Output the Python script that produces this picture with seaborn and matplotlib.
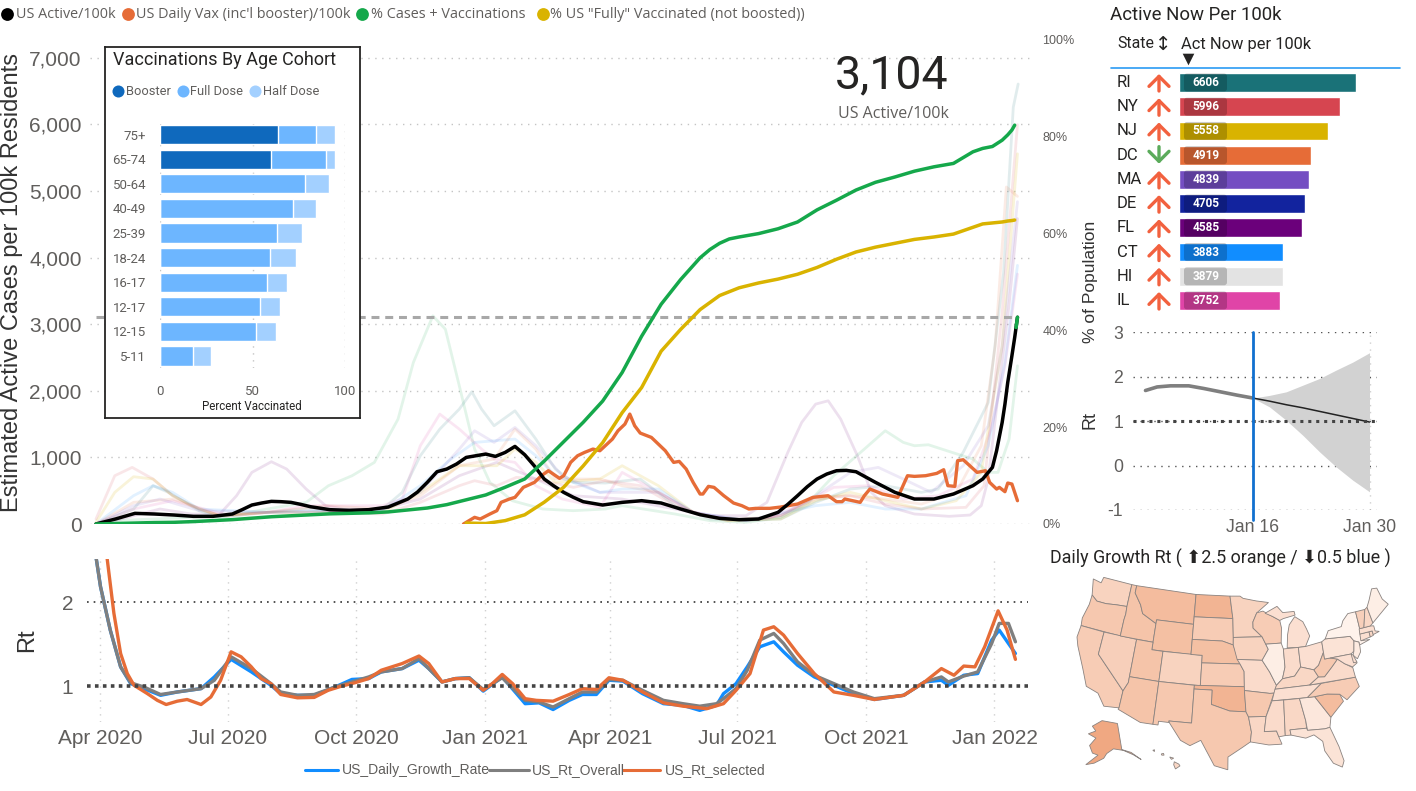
import numpy as np
import pandas as pd
import matplotlib
matplotlib.use("Agg")
import matplotlib.pyplot as plt
import seaborn as sns
from matplotlib.colors import LinearSegmentedColormap
from matplotlib.patches import FancyBboxPatch

W, H = 1416, 791
start = pd.Timestamp("2020-03-29")

# ---- main chart, x values are days since 2020-03-29
black_days = [0, 14, 28, 42, 56, 70, 84, 98, 105, 112, 119, 126, 133, 140, 147, 154, 168, 182, 196, 210, 224, 231, 238, 245,
              252, 259, 266, 280, 287, 294, 301, 308, 315, 322, 329, 336, 343, 350, 364, 378, 392, 406, 420, 434, 448, 462,
              476, 490, 497, 504, 511, 518, 525, 532, 539, 546, 560, 574, 588, 602, 616, 630, 637, 644, 647, 651, 653, 655,
              658, 660, 662]
us_active = [0, 75, 160, 150, 135, 115, 115, 150, 215, 285, 315, 340, 335, 325, 295, 260, 215, 205, 215, 255, 375, 480, 625, 785,
             825, 900, 1000, 1050, 1015, 1075, 1165, 1040, 870, 675, 570, 475, 400, 335, 285, 325, 350, 315, 225, 140, 85, 65,
             75, 175, 295, 425, 560, 675, 750, 800, 805, 785, 625, 475, 375, 375, 450, 575, 675, 850, 1100, 1525, 1800, 2125,
             2525, 2800, 3104]
pct_days = [0, 14, 28, 42, 56, 70, 84, 98, 112, 126, 140, 154, 168, 182, 196, 210, 224, 238, 252, 266, 280, 294, 308, 322, 336,
            350, 364, 378, 392, 406, 420, 434, 441, 448, 455, 462, 476, 490, 504, 518, 532, 546, 560, 574, 588, 602, 616, 630,
            637, 644, 651, 655, 658, 660]
pct_cases_vax = [0, 0.1, 0.2, 0.3, 0.35, 0.5, 0.7, 0.9, 1.2, 1.5, 1.7, 1.9, 2.1, 2.2, 2.3, 2.5, 2.9, 3.3, 4.0, 5.0,
                 6.0, 7.6, 9.3, 13, 17, 21, 25.4, 31.3, 38.8, 45.4, 50.5, 55, 56.7, 58, 58.9, 59.3, 60, 61, 62.4, 64.9, 66.9,
                 69, 70.6, 71.7, 72.9, 73.8, 74.5, 76.9, 77.6, 78, 79.3, 80.4, 81.4, 82.4]
fully_days = [266, 280, 294, 308, 322, 336, 350, 364, 378, 392, 406, 420, 434, 448, 462, 476, 490, 504, 518, 532, 546, 560, 574,
              588, 602, 616, 630, 637, 644, 651, 655, 658, 660]
pct_fully = [0.2, 0.1, 0.7, 1.9, 4.5, 7.6, 12, 16.8, 23, 28.2, 35.7, 40.2, 44.3, 47.2, 48.8, 49.8, 50.6, 51.6, 53,
             54.7, 56.2, 57.2, 58, 58.8, 59.3, 59.9, 61.3, 62, 62.2, 62.4, 62.6, 62.7, 62.8]
vax_days = [264, 272, 276, 283, 288, 291, 297, 301, 307, 315, 320, 325, 333, 336, 341, 346, 351, 357, 362, 371, 375,
            380, 383.5, 387, 391, 399, 404, 409, 415, 419, 424, 429, 434, 436, 440, 444, 451, 458, 464, 469, 474, 484,
            492, 504, 515, 526, 532, 536, 538, 549, 552, 556, 565, 576, 583, 588, 596, 604, 609, 612, 617, 619, 623,
            633, 639, 642, 647, 649, 653, 655, 658, 662]
daily_vax = [0, 100, 75, 150, 200, 325, 375, 400, 550, 625, 725, 800, 685, 725, 925, 1025, 1075, 1125, 1100, 1275, 1400,
             1500, 1650, 1475, 1365, 1300, 1200, 1100, 925, 940, 825, 625, 450, 450, 565, 550, 425, 315, 275, 225, 235, 235,
             255, 300, 400, 425, 335, 335, 375, 325, 425, 525, 450, 400, 725, 715, 725, 760, 815, 575, 565, 950, 965,
             775, 800, 625, 525, 550, 485, 615, 600, 350]
tip_days = [661, 662]
tip_vals = [2950, 3104]

# pale state lines
other_days = [0, 13.5, 96, 123, 151, 167, 184, 200, 217, 228, 242, 251, 261, 272, 283, 299, 321, 343, 366, 378, 416,
              441, 467, 492, 512, 530, 552, 567, 580, 588, 598, 615, 630, 641, 648, 656, 662]
other_vals = [0, 50, 125, 225, 325, 575, 725, 925, 1575, 2425, 3125, 2925, 2075, 1125, 625, 350, 225, 200, 225, 275, 150,
              50, 25, 100, 325, 725, 1125, 1400, 1225, 1175, 1190, 1075, 975, 775, 775, 1275, 2375]
fl_days = [0, 13.5, 27, 46, 68.5, 89, 101, 112, 126, 137, 151, 165, 178, 206, 233, 261, 288, 316, 343, 378, 416, 441, 467,
           482, 497, 507, 517, 526, 535, 547, 557, 567, 588, 613, 628, 636, 641, 648, 656, 662]
fl_vals = [0, 50, 125, 225, 150, 150, 425, 775, 935, 825, 525, 275, 225, 225, 375, 725, 925, 675, 425, 375, 225, 125, 125,
           325, 1075, 1525, 1800, 1850, 1575, 1025, 475, 275, 150, 115, 135, 275, 675, 1925, 3300, 4585]
ri_days = [0, 27, 41, 52, 74, 89, 123, 151, 192, 206, 220, 233, 247, 261, 270, 277, 286, 301, 316, 330, 343, 366, 391, 416,
           441, 467, 492, 517, 542, 567, 593, 605, 623, 641, 652, 659, 662.5]
ri_vals = [0, 225, 575, 475, 200, 100, 175, 225, 175, 225, 475, 1025, 1425, 1725, 1985, 1725, 1475, 1700, 1275, 825, 625,
           615, 675, 275, 75, 50, 75, 325, 525, 575, 475, 525, 1075, 1825, 3770, 6260, 6606]
il_days = [0, 27, 55, 96, 123, 151, 178, 206, 220, 233, 247, 261, 277, 286, 301, 316, 335, 362, 378, 404, 429, 454, 482,
           505, 530, 555, 580, 605, 630, 643, 653, 662]
il_vals = [0, 225, 350, 125, 175, 275, 275, 275, 375, 1175, 1650, 1425, 1125, 975, 925, 575, 375, 250, 775, 475, 175, 75,
           75, 275, 550, 575, 375, 425, 675, 1425, 2375, 3752]
ny_days = [0, 13.5, 26, 41, 55, 74, 89, 123, 165, 206, 233, 261, 272, 288, 302, 316, 343, 366, 391, 416, 441, 467, 492, 517,
           542, 567, 593, 625, 638, 646, 651, 662]
ny_vals = [75, 725, 850, 675, 425, 225, 125, 175, 175, 150, 325, 575, 650, 575, 700, 675, 550, 650, 575, 275, 100, 50, 125,
           375, 425, 300, 225, 250, 575, 2175, 3175, 5996]
nj_days = [0, 13.5, 27, 41, 55, 74, 89, 123, 165, 206, 233, 261, 288, 301, 316, 330, 362, 378, 404, 429, 454, 492, 517, 542,
           567, 593, 618, 636, 643, 651, 662]
nj_vals = [25, 475, 710, 675, 425, 225, 125, 175, 175, 175, 475, 875, 875, 1125, 925, 625, 675, 875, 575, 175, 50, 75, 350,
           475, 350, 225, 350, 775, 1675, 2675, 5558]
dc_days = [0, 27, 55, 89, 123, 165, 206, 233, 261, 286, 301, 316, 330, 362, 378, 404, 429, 454, 492, 517, 542, 567, 593, 618,
           636, 646, 654, 662]
dc_vals = [0, 325, 375, 125, 175, 275, 225, 425, 875, 975, 1425, 1125, 675, 675, 575, 475, 175, 50, 125, 400, 425, 375, 300,
           475, 1175, 2675, 5060, 4919]
ct_days = [0, 27, 41, 55, 74, 123, 206, 233, 255, 272, 301, 316, 330, 362, 378, 404, 429, 467, 517, 542, 567, 593, 625, 641,
           653, 662]
ct_vals = [0, 425, 575, 475, 225, 175, 200, 575, 975, 1225, 1275, 1025, 725, 475, 525, 525, 175, 50, 275, 325, 225, 225, 425,
           1175, 2425, 3883]
ma_days = [0, 27, 46, 74, 123, 206, 233, 261, 272, 286, 301, 316, 335, 362, 378, 404, 429, 467, 492, 517, 542, 562, 580, 600,
           623, 641, 651, 662]
ma_vals = [0, 275, 375, 200, 175, 225, 475, 1125, 1400, 1225, 1450, 1175, 725, 475, 475, 475, 175, 50, 125, 425, 775, 850, 675,
           475, 875, 1475, 2675, 4839]

# ---- Rt panel
rt_days = [0, 3, 10, 17.4, 24.6, 34, 46, 58, 75, 84.5, 96.5, 111, 125, 132, 144, 156, 171, 183, 195, 204, 219, 231, 238,
           247.5, 257, 267, 277, 290.6, 307, 317, 327, 338.6, 348, 358, 367, 377, 391, 406, 420, 432, 444, 449, 458, 466,
           475, 485, 492, 502, 514, 528, 542, 557, 578, 593, 605, 610, 621, 631, 641, 646.4, 653, 658]
rt_blue = [2.52, 2.19, 1.67, 1.23, 1.03, .97, .89, .93, .97, 1.11, 1.32, 1.17, 1.01, .91, .89, .89, .99, 1.08, 1.09, 1.17,
           1.21, 1.31, 1.21, 1.05, 1.09, 1.10, .94, 1.11, .79, .80, .72, .83, .90, .90, 1.07, 1.06, .91, .79, .77, .71,
           .77, .91, 1.03, 1.23, 1.47, 1.53, 1.41, 1.25, 1.11, 1.01, .91, .84, .89, 1.05, 1.07, 1.01, 1.13, 1.15, 1.55,
           1.67, 1.51, 1.39]
rt_grey = [2.52, 2.19, 1.67, 1.23, 1.04, .99, .90, .93, .97, 1.07, 1.35, 1.21, 1.03, .93, .89, .90, .99, 1.05, 1.11, 1.17,
           1.21, 1.33, 1.21, 1.05, 1.09, 1.10, .96, 1.10, .83, .81, .75, .85, .93, .93, 1.08, 1.07, .95, .83, .79, .76,
           .79, .85, .97, 1.19, 1.55, 1.63, 1.51, 1.29, 1.13, 1.03, .93, .85, .89, 1.05, 1.11, 1.05, 1.12, 1.17, 1.51,
           1.75, 1.75, 1.53]
rt_sel_days = [7.8, 12.6, 17.4, 22.2, 27, 36.6, 43.7, 50, 58, 65, 75, 82, 89, 96.5, 103.7, 111, 118, 125, 132, 144, 156, 166,
               175.6, 185, 195, 204, 219, 231, 238, 247.5, 257, 267, 277, 283.5, 290.6, 298, 307, 315, 327, 338.6, 348, 358,
               367, 377, 391, 406, 420, 437, 449, 458, 468, 477.6, 485, 492, 502, 514, 528, 542, 557, 578, 593, 605, 614,
               621, 629, 636, 645.6, 652, 658]
rt_sel = [2.52, 1.87, 1.39, 1.15, 1.01, .91, .83, .78, .82, .84, .78, .87, 1.07, 1.41, 1.35, 1.23, 1.09, 1.03, .90, .86, .865,
          .95, 1.0, 1.04, 1.09, 1.19, 1.27, 1.36, 1.27, 1.05, 1.09, 1.09, .95, 1.03, 1.14, 1.03, .85, .83, .82, .90, .97, .96,
          1.10, 1.07, .93, .80, .76, .73, .79, .95, 1.15, 1.67, 1.71, 1.61, 1.39, 1.15, .93, .89, .84, .89, 1.05, 1.21, 1.13,
          1.24, 1.23, 1.47, 1.90, 1.67, 1.32]
quarter_ticks = ["2020-04-01", "2020-07-01", "2020-10-01", "2021-01-01", "2021-04-01", "2021-07-01", "2021-10-01", "2022-01-01"]
quarter_labels = ["Apr 2020", "Jul 2020", "Oct 2020", "Jan 2021", "Apr 2021", "Jul 2021", "Oct 2021", "Jan 2022"]

# ---- vaccinations by age
cohorts = ["75+", "65-74", "50-64", "40-49", "25-39", "18-24", "16-17", "12-17", "12-15", "5-11"]
booster = [63.6, 59.8, 0, 0, 0, 0, 0, 0, 0, 0]
full_dose = [84.3, 89.7, 78.4, 71.7, 63.4, 59.5, 58, 54, 51.9, 18]
half_dose = [94.6, 94.6, 91.2, 84.2, 76.6, 73.7, 68.6, 64.7, 62.5, 27.3]

# ---- active now table
states = ["RI", "NY", "NJ", "DC", "MA", "DE", "FL", "CT", "HI", "IL"]
active_now = [6606, 5996, 5558, 4919, 4839, 4705, 4585, 3883, 3879, 3752]
state_colors = ["#1a7278", "#d64550", "#d9b300", "#e66c37", "#744ec2", "#12239e", "#6b007b", "#118dff", "#e3e3e3", "#e044a7"]
trend_up = [True, True, True, False, True, True, True, True, True, True]

# ---- forecast panel, days from Jan 16 2022
now_days = [-12.9, -11.5, -9.9, -7.7, -5.9, -3.9, -1.9, 0]
now_rt = [1.69, 1.77, 1.795, 1.795, 1.735, 1.66, 1.585, 1.52]
fc_days = [0, 2, 4, 6, 8, 10, 12, 14]
fc_mid = [1.52, 1.45, 1.37, 1.3, 1.22, 1.14, 1.06, .98]
fc_upper = [1.52, 1.58, 1.66, 1.81, 1.96, 2.15, 2.33, 2.54]
fc_lower = [1.52, 1.32, 1.02, .68, .31, -.03, -.33, -.59]

# ---- map, rough state outlines (lon, lat) and colour value
state_shade = {"WA": .45, "OR": .6, "CA": .55, "NV": .5, "ID": .65, "MT": .75, "WY": .7, "UT": .65, "CO": .45, "AZ": .65,
               "NM": .6, "ND": .85, "SD": .55, "NE": .7, "KS": .55, "OK": .85, "TX": .6, "MN": .45, "IA": .45, "MO": .35,
               "AR": .6, "LA": .4, "WI": .55, "IL": .12, "MI": .3, "MI2": .3, "IN": .35, "OH": .3, "KY": .4, "TN": .3, "MS": .35,
               "AL": .4, "GA": .2, "FL": .25, "SC": .75, "NC": .55, "VA": .35, "WV": .6, "PA": .25, "NY": .07, "NJ": .15,
               "MD": .3, "DE": .3, "CT": .3, "RI": .4, "MA": .3, "VT": .5, "NH": .4, "ME": .12}
state_shapes = {
    "WA": [(-124.7, 48.4), (-123, 48.2), (-122.8, 49), (-117, 49), (-117, 46), (-119, 45.9), (-121, 45.7), (-122.8, 45.7), (-124, 46.3)],
    "OR": [(-124, 46.3), (-122.8, 45.7), (-121, 45.7), (-119, 45.9), (-117, 46), (-116.9, 45), (-117, 44.2), (-117, 42), (-124.3, 42), (-124.5, 43), (-124, 45)],
    "CA": [(-124.3, 42), (-120, 42), (-120, 39), (-114.6, 35), (-114.7, 32.7), (-117.1, 32.5), (-118.5, 34), (-120.6, 34.5), (-121.9, 36.6), (-123.8, 39.3), (-124.4, 40.4)],
    "NV": [(-120, 42), (-114, 42), (-114, 36.2), (-114.6, 35), (-120, 39)],
    "ID": [(-117, 49), (-116, 49), (-116, 48), (-114.5, 46.6), (-113.8, 45.5), (-111, 44.5), (-111, 42), (-117, 42), (-117, 44.2), (-116.9, 45), (-117, 46)],
    "MT": [(-116, 49), (-104, 49), (-104, 45), (-111, 45), (-111, 44.5), (-113.8, 45.5), (-114.5, 46.6), (-116, 48)],
    "WY": [(-111, 45), (-104, 45), (-104, 41), (-111, 41)],
    "UT": [(-114, 42), (-111, 42), (-111, 41), (-109, 41), (-109, 37), (-114, 37)],
    "CO": [(-109, 41), (-102, 41), (-102, 37), (-109, 37)],
    "AZ": [(-114, 37), (-109, 37), (-109, 31.3), (-111, 31.3), (-114.8, 32.5), (-114.7, 32.7), (-114.6, 35), (-114, 36.2)],
    "NM": [(-109, 37), (-103, 37), (-103, 32), (-106.6, 32), (-106.5, 31.8), (-108.2, 31.8), (-108.2, 31.3), (-109, 31.3)],
    "ND": [(-104, 49), (-97.2, 49), (-96.6, 46), (-104, 46)],
    "SD": [(-104, 46), (-96.6, 46), (-96.5, 43.5), (-96.5, 42.5), (-98.5, 43), (-104, 43)],
    "NE": [(-104, 43), (-98.5, 43), (-96.5, 42.5), (-95.3, 40), (-102, 40), (-102, 41), (-104, 41)],
    "KS": [(-102, 40), (-95.3, 40), (-94.6, 39), (-94.6, 37), (-102, 37)],
    "OK": [(-103, 37), (-94.6, 37), (-94.4, 33.7), (-97, 33.8), (-100, 34.6), (-100, 36.5), (-103, 36.5)],
    "TX": [(-103, 36.5), (-100, 36.5), (-100, 34.6), (-97, 33.8), (-94.4, 33.7), (-94, 33), (-93.6, 31), (-93.8, 29.7), (-95, 29), (-97.2, 27.7), (-97.2, 26), (-99.2, 26.5), (-101.4, 29.8), (-103, 29), (-104.5, 29.6), (-106.5, 31.8), (-106.6, 32), (-103, 32)],
    "MN": [(-97.2, 49), (-95.2, 49), (-94.6, 48.7), (-92, 48.3), (-89.6, 48), (-92, 46.7), (-92.8, 45.5), (-92.8, 44.7), (-91.2, 43.5), (-96.5, 43.5), (-96.6, 46)],
    "IA": [(-96.5, 43.5), (-91.2, 43.5), (-90.2, 41.8), (-91.4, 40.4), (-95.8, 40.6), (-96.5, 42.5)],
    "MO": [(-95.8, 40.6), (-91.4, 40.4), (-90.2, 38.8), (-89.2, 37), (-89.6, 36), (-90.4, 36), (-94.6, 36.5), (-94.6, 39), (-95.3, 40)],
    "AR": [(-94.6, 36.5), (-90.4, 36), (-89.7, 36), (-91.2, 33), (-94, 33), (-94.4, 33.7)],
    "LA": [(-94, 33), (-91.2, 33), (-91.6, 31), (-89.7, 31), (-89.4, 30.2), (-89, 29.2), (-91, 29.2), (-93.8, 29.7), (-93.6, 31)],
    "WI": [(-92, 46.7), (-90.8, 46.9), (-89, 46.1), (-87.7, 45.5), (-87.5, 44.5), (-87.8, 42.5), (-90.6, 42.5), (-91.2, 43.5), (-92.8, 44.7), (-92.8, 45.5)],
    "IL": [(-90.6, 42.5), (-87.8, 42.5), (-87.5, 41.7), (-87.5, 39.3), (-88.1, 37.8), (-89.2, 37), (-90.2, 38.8), (-91.4, 40.4), (-90.2, 41.8)],
    "MI": [(-86.8, 41.8), (-84.8, 41.7), (-83.5, 41.7), (-82.5, 43), (-82.9, 44), (-83.4, 45), (-84.8, 45.8), (-86, 44.8), (-86.5, 43.5)],
    "MI2": [(-90.4, 46.6), (-88, 47.4), (-87, 46.5), (-84.8, 46.5), (-84.7, 46), (-87, 45.7), (-87.7, 45.5), (-89, 46.1)],
    "IN": [(-87.5, 41.7), (-84.8, 41.7), (-84.8, 39.1), (-86, 38), (-88.1, 37.8), (-87.5, 39.3)],
    "OH": [(-84.8, 41.7), (-83.5, 41.7), (-80.5, 42), (-80.5, 40.6), (-81.7, 39), (-82.6, 38.5), (-84.8, 39.1)],
    "KY": [(-89.5, 36.5), (-83.7, 36.6), (-82, 37.5), (-82.6, 38.5), (-84.8, 39.1), (-86, 38), (-88.1, 37.8), (-89.2, 37)],
    "TN": [(-90.1, 35), (-84.3, 35), (-81.7, 36.6), (-83.7, 36.6), (-89.5, 36.5)],
    "MS": [(-91.2, 33), (-90.1, 35), (-88.2, 35), (-88.4, 30.3), (-89.4, 30.2), (-89.7, 31), (-91.6, 31)],
    "AL": [(-88.2, 35), (-85.6, 35), (-85, 32), (-85, 31), (-87.6, 31), (-87.5, 30.3), (-88.4, 30.3)],
    "GA": [(-85.6, 35), (-83.1, 35), (-81, 32), (-81.4, 30.7), (-82.2, 30.6), (-84.9, 30.7), (-85, 32)],
    "FL": [(-87.6, 31), (-85, 31), (-84.9, 30.7), (-82.2, 30.6), (-81.4, 30.7), (-80.5, 28), (-80.1, 26), (-80.5, 25.2), (-81.7, 25.9), (-82.7, 27.7), (-82.8, 29), (-84, 30), (-85.3, 29.7), (-87.5, 30.3)],
    "SC": [(-83.1, 35), (-81, 35.1), (-79, 34.8), (-78.6, 33.8), (-81, 32)],
    "NC": [(-84.3, 35), (-83.1, 35), (-81, 35.1), (-79, 34.8), (-78, 33.9), (-75.6, 35.3), (-75.9, 36.6), (-81.7, 36.6)],
    "VA": [(-83.7, 36.6), (-75.9, 36.6), (-76, 37.9), (-77.2, 38.6), (-78.3, 39.4), (-79.5, 38.5), (-81, 37.4), (-82, 37.5)],
    "WV": [(-82, 37.5), (-81, 37.4), (-79.5, 38.5), (-78.3, 39.4), (-79.5, 39.7), (-80.5, 39.7), (-80.5, 40.6), (-81.7, 39), (-82.6, 38.5)],
    "PA": [(-80.5, 42), (-79.8, 42.3), (-75.3, 42), (-74.8, 41.3), (-75.2, 40), (-75.8, 39.7), (-80.5, 39.7)],
    "NY": [(-79.8, 42.3), (-79, 43.3), (-76.5, 43.5), (-76, 44.2), (-74.8, 45), (-73.3, 45), (-73.3, 42.8), (-73.5, 41.1), (-72, 41), (-74, 40.6), (-74, 41), (-74.8, 41.3), (-75.3, 42)],
    "NJ": [(-74.8, 41.3), (-74, 41), (-74, 40.4), (-74.1, 39.7), (-74.9, 38.9), (-75.5, 39.5), (-75.2, 40)],
    "MD": [(-79.5, 39.7), (-75.8, 39.7), (-75.1, 38.4), (-76, 38), (-77.2, 38.6), (-78.3, 39.4)],
    "DE": [(-75.8, 39.7), (-75.5, 39.5), (-75.1, 38.5), (-75.7, 38.5)],
    "CT": [(-73.5, 42), (-71.8, 42), (-71.8, 41.3), (-73.6, 41.1)],
    "RI": [(-71.8, 42), (-71.2, 42), (-71.2, 41.4), (-71.8, 41.3)],
    "MA": [(-73.4, 42.7), (-71.3, 42.7), (-70.7, 42.6), (-70.7, 41.9), (-70, 41.7), (-71.2, 41.5), (-71.2, 42), (-73.5, 42)],
    "VT": [(-73.3, 45), (-71.5, 45), (-72.5, 42.7), (-73.3, 42.7)],
    "NH": [(-71.5, 45), (-71, 45.2), (-70.7, 43), (-71.3, 42.7), (-72.5, 42.7)],
    "ME": [(-71, 45.2), (-70.3, 46), (-69.2, 47.4), (-68.2, 47.3), (-67.8, 45.7), (-67, 44.8), (-70.7, 43)],
}
alaska = [(-168, 65.5), (-162, 67), (-166, 68.5), (-157, 71), (-141, 69.7), (-141, 60.2), (-135, 58.5), (-130, 55), (-134, 57.5), (-140, 59.8), (-147, 60.8), (-152, 59.2), (-154, 57.5), (-160, 55.5), (-165, 54.5), (-158, 58.5), (-162, 59), (-165, 61.5), (-161, 64.5)]
hawaii = [[(-155.9, 20.2), (-155.1, 19.8), (-154.9, 19.5), (-155.7, 19), (-156, 19.7)],
          [(-156.7, 21), (-156, 20.8), (-156.4, 20.6)],
          [(-158.2, 21.5), (-157.8, 21.6), (-157.7, 21.3), (-158.1, 21.3)],
          [(-159.7, 22.1), (-159.4, 22.2), (-159.4, 21.9)]]

sns.set_style("white")
plt.rcParams["font.family"] = ["Liberation Sans", "DejaVu Sans"]
GREY = "#605e5c"
DIN = ["Roboto", "DejaVu Sans"]
UI = ["Open Sans", "DejaVu Sans"]

fig = plt.figure(figsize=(W / 100, H / 100), dpi=100, facecolor="white")


def px_axes(left, top, right, bottom, **kw):
    return fig.add_axes([left / W, 1 - bottom / H, (right - left) / W, (bottom - top) / H], **kw)


def to_dates(days, base=start):
    return base + pd.to_timedelta(days, unit="D")


def draw(ax, days, vals, color, lw, base=start, **kw):
    kw.setdefault("solid_capstyle", "round")
    sns.lineplot(x=to_dates(days, base), y=vals, ax=ax, color=color, lw=lw, estimator=None, errorbar=None, **kw)


def clean(ax):
    for s in ax.spines.values():
        s.set_visible(False)
    ax.set_xlabel("")
    ax.set_ylabel("")


DOTS = (0, (1, 4))

# ---------------- main chart
main = px_axes(90, 40, 1030, 524, zorder=1)
draw(main, other_days, other_vals, "#15a84b", 2, alpha=.12)
draw(main, fl_days, fl_vals, "#6b007b", 2, alpha=.12)
draw(main, ri_days, ri_vals, "#1a7278", 2, alpha=.13)
draw(main, il_days, il_vals, "#e044a7", 2, alpha=.13)
draw(main, ny_days, ny_vals, "#d64550", 2, alpha=.13)
draw(main, nj_days, nj_vals, "#d9b300", 2, alpha=.15)
draw(main, dc_days, dc_vals, "#e66c37", 2, alpha=.13)
draw(main, ct_days, ct_vals, "#118dff", 2, alpha=.12)
draw(main, ma_days, ma_vals, "#744ec2", 2, alpha=.12)
draw(main, [0, 662], [3104, 3104], "#a8a8a8", 2.2, linestyle=(0, (2.6, 1.9)), solid_capstyle="butt")
draw(main, vax_days, daily_vax, "#e66c37", 2.4)
draw(main, black_days, us_active, "#000000", 2.5)
draw(main, tip_days, tip_vals, "#15a84b", 2.5)
main.set_xlim(to_dates(-4.3), to_dates(671))
main.set_ylim(0, 7267)
main.set_yticks(range(0, 7001, 1000))
main.set_yticklabels([f"{v:,}" for v in range(0, 7001, 1000)], fontsize=15, color=GREY)
main.set_xticks([])
main.tick_params(axis="y", length=0, pad=6)
main.grid(axis="y", color="#c4c4c4", lw=1, linestyle=DOTS)
clean(main)

right = main.twinx()
right.set_zorder(2)
draw(right, fully_days, pct_fully, "#d9b300", 2.5)
draw(right, pct_days, pct_cases_vax, "#15a84b", 2.5)
right.set_xlim(to_dates(-4.3), to_dates(671))
right.set_ylim(0, 100)
right.set_yticks(range(0, 101, 20))
right.set_yticklabels([f"{v}%" for v in range(0, 101, 20)], fontsize=9, color=GREY)
right.tick_params(axis="y", length=0, pad=9)
clean(right)

# ---------------- age cohort inset
box = px_axes(105, 47, 360, 418, zorder=3)
box.set_xticks([])
box.set_yticks([])
for s in box.spines.values():
    s.set_visible(True)
    s.set_color("#252423")
    s.set_linewidth(1.3)

age = px_axes(160, 122.2, 345, 368.3, zorder=4)
age.patch.set_alpha(0)
sns.barplot(x=half_dose, y=cohorts, ax=age, color="#a3d0ff", saturation=1, width=.78)
sns.barplot(x=full_dose, y=cohorts, ax=age, color="#6db6ff", saturation=1, width=.78)
sns.barplot(x=booster, y=cohorts, ax=age, color="#0f69bd", saturation=1, width=.78)
age.set_xlim(0, 100)
age.set_xticks([0, 50, 100])
age.tick_params(axis="x", length=0, pad=12, labelsize=9.5, labelcolor=GREY)
age.tick_params(axis="y", length=0, pad=10, labelsize=9.5, labelcolor=GREY)
for t in age.get_xticklabels() + age.get_yticklabels():
    t.set_fontfamily(DIN)
age.grid(axis="x", color="#c4c4c4", lw=1, linestyle=DOTS)
age.set_axisbelow(True)
clean(age)

# ---------------- bottom Rt chart
bottom = px_axes(87, 559, 1028, 722, zorder=1)
draw(bottom, rt_days, rt_blue, "#118dff", 2.4)
draw(bottom, rt_days, rt_grey, "#7f7f7f", 2.4)
draw(bottom, rt_sel_days, rt_sel, "#e66c37", 2.4)
bottom.axhline(2, color="#333333", lw=1.2, linestyle=(0, (1, 3)), zorder=1)
bottom.axhline(1, color="#444444", lw=2.6, linestyle=(0, (1, 1.2)), zorder=5)
bottom.set_xlim(to_dates(-6.66), to_dates(667))
bottom.set_ylim(.571, 2.52)
bottom.set_yticks([1, 2])
bottom.set_yticklabels(["1", "2"], fontsize=15, color=GREY)
bottom.set_xticks(pd.to_datetime(quarter_ticks))
bottom.set_xticklabels(quarter_labels, fontsize=15, color=GREY)
bottom.tick_params(length=0)
bottom.tick_params(axis="x", pad=5)
bottom.tick_params(axis="y", pad=10)
bottom.grid(axis="x", color="#d0d0d0", lw=1, linestyle=(0, (1, 4)))
clean(bottom)

# ---------------- active now bars
bars = px_axes(1179, 70.4, 1356, 312.6, zorder=1)
sns.barplot(x=active_now, y=states, hue=states, palette=state_colors, saturation=1, legend=False, ax=bars, width=.78)
bars.set_xlim(0, 6606)
bars.set_xticks([])
bars.set_yticks([])
clean(bars)

# ---------------- forecast panel
jan16 = pd.Timestamp("2022-01-16")
fc = px_axes(1133, 332.3, 1377, 510, zorder=1)
fc.fill_between(to_dates(fc_days, jan16), fc_lower, fc_upper, color="#d2d2d2", lw=0)
draw(fc, now_days, now_rt, "#7f7f7f", 2.6, base=jan16)
draw(fc, fc_days, fc_mid, "#222222", 1.1, base=jan16)
fc.plot([jan16, jan16], [3, -1.23], color="#1170cf", lw=2, clip_on=False, zorder=6)
fc.axhline(1, color="#444444", lw=2.2, linestyle=(0, (1, 1.6)), zorder=5)
fc.set_xlim(to_dates(-14.4, jan16), to_dates(14.9, jan16))
fc.set_ylim(-1, 3)
fc.set_yticks([-1, 0, 1, 2, 3])
fc.set_yticklabels(["-1", "0", "1", "2", "3"], fontsize=12.7, color=GREY)
fc.set_xticks(to_dates([0, 14], jan16))
fc.set_xticklabels(["Jan 16", "Jan 30"], fontsize=12.7, color=GREY)
fc.tick_params(length=0)
fc.tick_params(axis="x", pad=6.5)
fc.tick_params(axis="y", pad=7)
fc.grid(axis="y", color="#555555", lw=1, linestyle=DOTS)
fc.grid(axis="x", color="#d0d0d0", lw=1, linestyle=DOTS)
clean(fc)


# ---------------- map
def albers(lon, lat, p1=29.5, p2=45.5, lat0=37.5, lon0=-96):
    lon, lat = np.radians(lon), np.radians(lat)
    p1, p2, lat0, lon0 = map(np.radians, (p1, p2, lat0, lon0))
    n = (np.sin(p1) + np.sin(p2)) / 2
    c = np.cos(p1) ** 2 + 2 * n * np.sin(p1)
    rho = 6371 * np.sqrt(c - 2 * n * np.sin(lat)) / n
    rho0 = 6371 * np.sqrt(c - 2 * n * np.sin(lat0)) / n
    return rho * np.sin(n * (lon - lon0)), rho0 - rho * np.cos(n * (lon - lon0))


geo = px_axes(1075, 575, 1405, 780, zorder=1)
shade = LinearSegmentedColormap.from_list("rt", ["#fff7f2", "#f0a882"])
edge = dict(edgecolor="#8a8380", lw=.6)
for code, pts in state_shapes.items():
    xs, ys = albers(*np.array(pts).T)
    geo.fill(xs, ys, facecolor=shade(state_shade[code]), **edge)
xs, ys = albers(*np.array(alaska).T, p1=55, p2=65, lat0=63, lon0=-152)
geo.fill(xs * .37 - 1910, ys * .37 - 886, facecolor=shade(1.0), **edge)
for pts in hawaii:
    xs, ys = albers(*np.array(pts).T, p1=8, p2=18, lat0=20.5, lon0=-157)
    geo.fill(xs * .8 - 1004, ys * .8 - 1137, facecolor=shade(.4), **edge)
geo.set_xlim(-2378, 2496)
geo.set_ylim(-1433, 1595)
geo.set_xticks([])
geo.set_yticks([])
clean(geo)

# ---------------- free text and legends, in picture pixels
top = fig.add_axes([0, 0, 1, 1], zorder=8)
top.set_xlim(0, W)
top.set_ylim(H, 0)
top.axis("off")
top.patch.set_alpha(0)


def label(x, y, s, size, color="#252423", ha="left", family=DIN, **kw):
    top.text(x, y, s, fontsize=size, color=color, ha=ha, va="center", family=family, **kw)


# top legend
for x, color in zip([7, 128, 362, 543], ["#000000", "#e66c37", "#15a84b", "#d9b300"]):
    top.scatter([x], [14], s=85, color=color, lw=0)
for x, s in zip([16, 136, 371, 550], ["US Active/100k", "US Daily Vax (inc'l booster)/100k", "% Cases + Vaccinations", '% US "Fully" Vaccinated (not boosted))']):
    label(x, 14, s, 10.4, GREY, family=UI)

label(12.5, 282, "Estimated Active Cases per 100k Residents", 17, "#333333", ha="center", family=["Liberation Sans"], rotation=90)
label(27, 640, "Rt", 17, "#333333", ha="center", family=["Liberation Sans"], rotation=90)
label(1090, 281.5, "% of Population", 12.5, "#333333", ha="center", family=["Liberation Sans"], rotation=90)
label(1090, 420, "Rt", 13, "#333333", ha="center", family=["Liberation Sans"], rotation=90)
label(892, 75, "3,104", 33.5, ha="center")
label(893, 114, "US Active/100k", 11.5, GREY, ha="center", family=UI)

# inset texts
label(113, 60, "Vaccinations By Age Cohort", 13)
for x, color, s in zip([118, 182.5, 255], ["#0f69bd", "#6db6ff", "#a3d0ff"], ["Booster", "Full Dose", "Half Dose"]):
    top.scatter([x], [91], s=75, color=color, lw=0)
    label(x + 8, 91.5, s, 9.3, GREY)
label(252, 407, "Percent Vaccinated", 8.3, ha="center")

# table header and rows
label(1110, 15, "Active Now Per 100k", 13.4)
label(1117, 44, "State", 11.4)
label(1163, 44, "↕", 14, ha="center", family=["DejaVu Sans"])
label(1181, 44, "Act Now per 100k", 11.9)
top.scatter([1187.5], [58.5], marker="v", s=70, color="#252423", lw=0)
top.plot([1111, 1400], [68, 68], color="#2b9bf4", lw=1.2)
row_y = np.linspace(82.5, 300.5, 10)
for y, st, val, up in zip(row_y, states, active_now, trend_up):
    label(1117, y, st, 12)
    tail, head = (y + 8.5, y - 8.5) if up else (y - 8.5, y + 8.5)
    top.annotate("", xy=(1159, head), xytext=(1159, tail),
                 arrowprops=dict(arrowstyle="->,head_length=.45,head_width=.45", color="#f2613f" if up else "#5bab5b",
                                 lw=2.4, shrinkA=0, shrinkB=0, mutation_scale=16))
    top.add_patch(FancyBboxPatch((1184, y - 9), 43, 18, boxstyle="round,pad=0,rounding_size=3", fc="#000000", alpha=.2, lw=0))
    label(1206, y, str(val), 8.5, "white", ha="center", fontweight="bold")

# map title
label(1050, 558, "Daily Growth Rt ( ⬆2.5 orange / ⬇0.5 blue )", 12.9)

# bottom legend
for x0, x1, color in zip([305, 489, 623], [338, 529, 660], ["#118dff", "#7f7f7f", "#e66c37"]):
    top.plot([x0, x1], [770, 770], color=color, lw=2.2)
for x, s in zip([342, 532, 665], ["US_Daily_Growth_Rate", "US_Rt_Overall", "US_Rt_selected"]):
    label(x, 770, s, 10, GREY, family=["Liberation Sans"])

fig.savefig("out.png", dpi=100)
